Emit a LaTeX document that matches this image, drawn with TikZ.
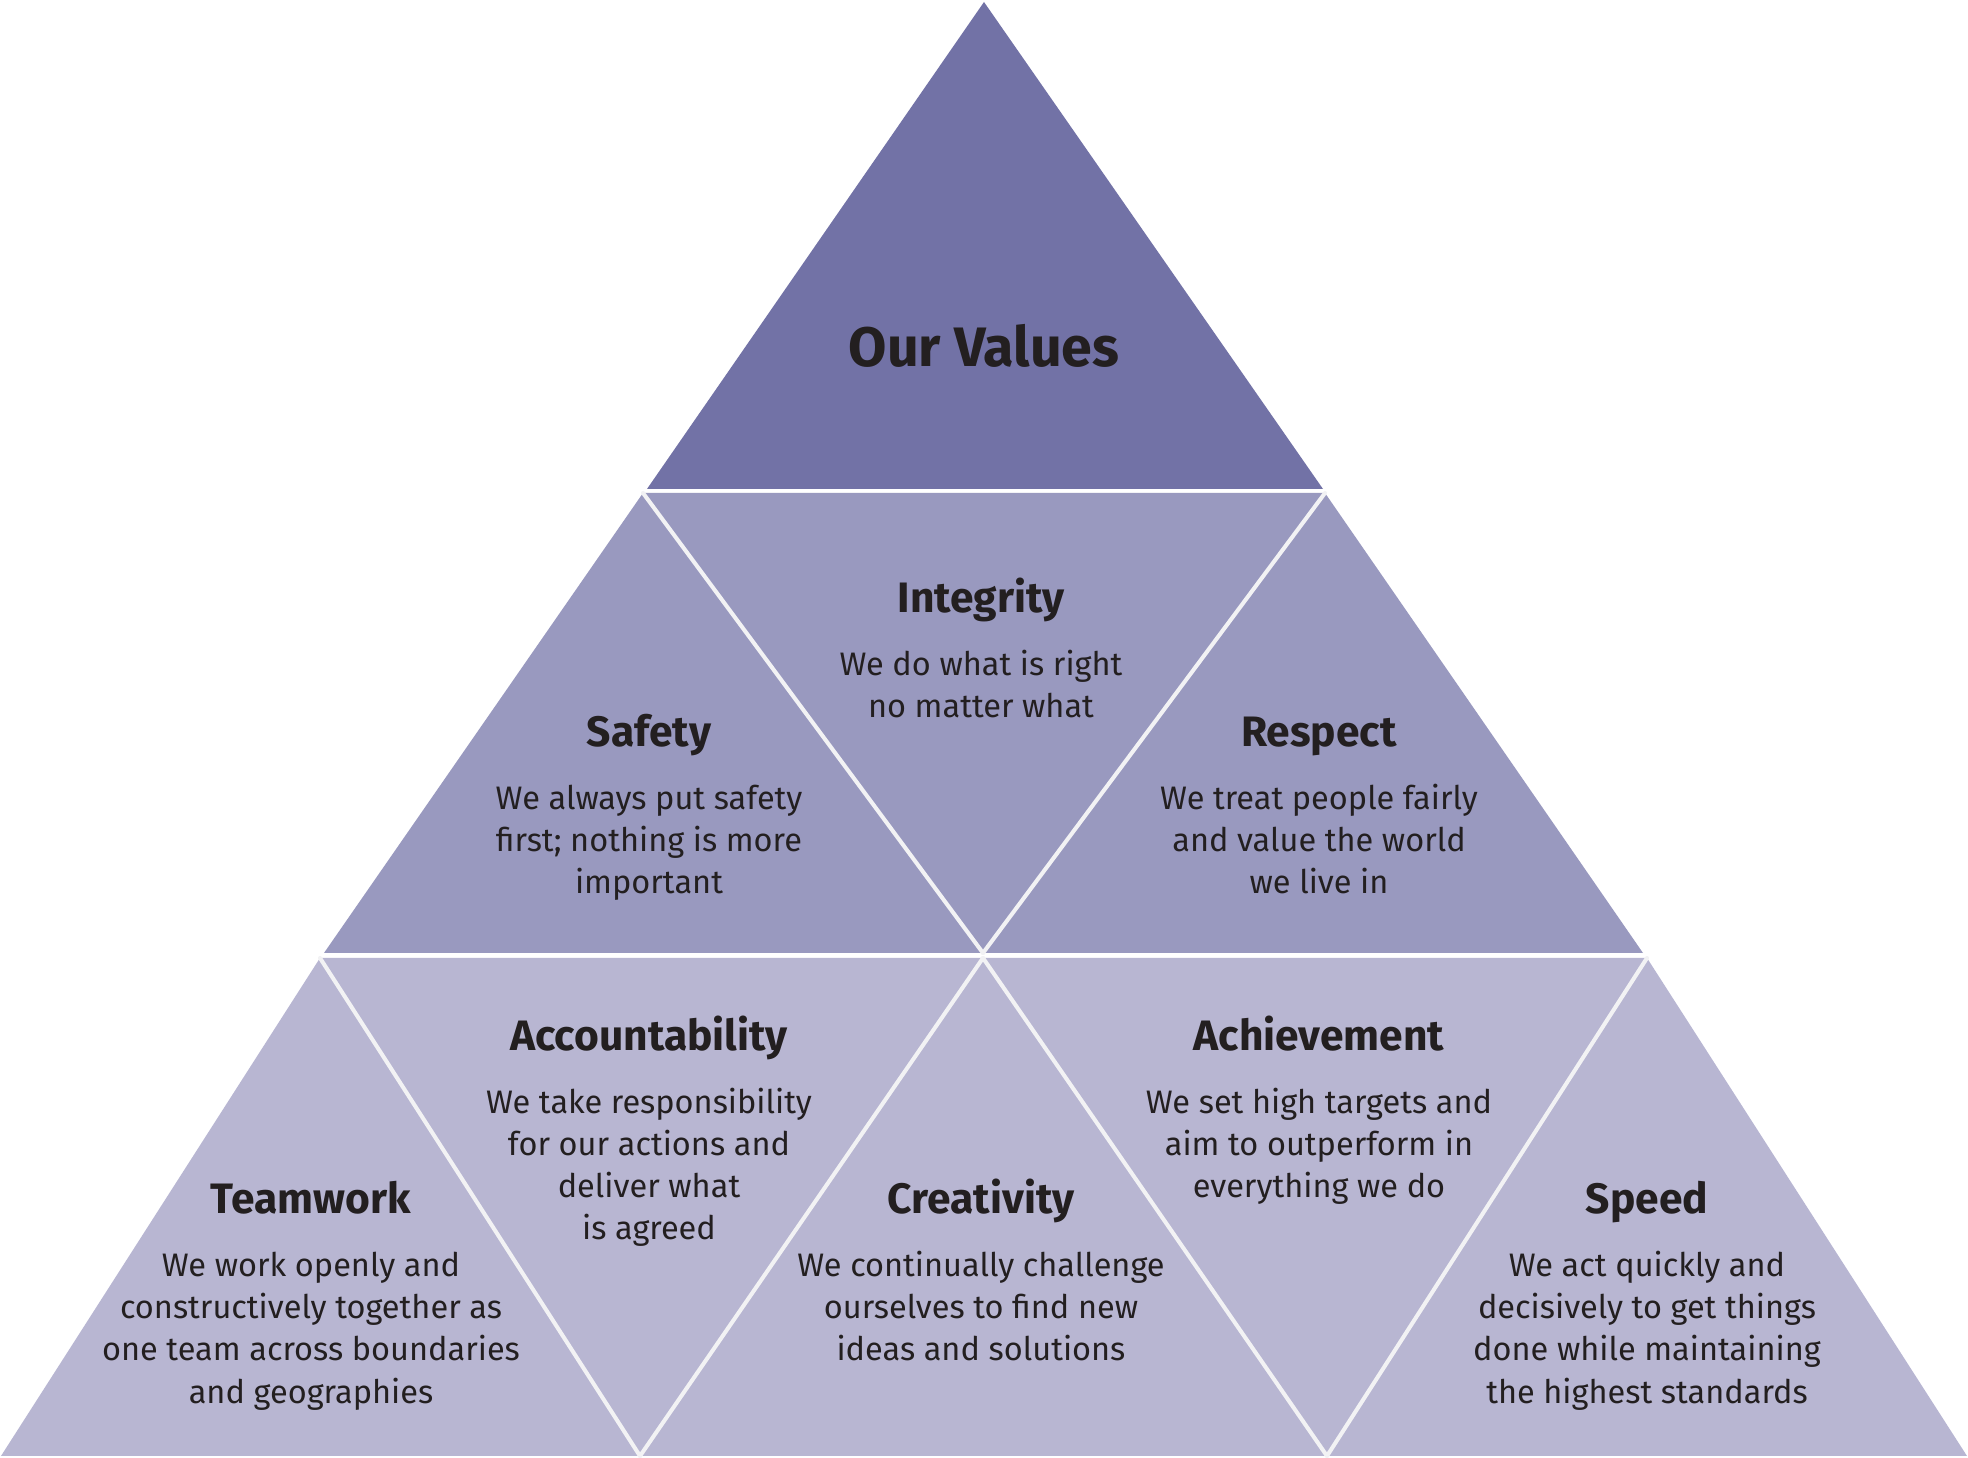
\documentclass[tikz,border=0pt]{standalone}
\usepackage{fontspec}
\setmainfont{Fira Sans}
\definecolor{topc}{RGB}{114,114,166}
\definecolor{midc}{RGB}{153,153,191}
\definecolor{botc}{RGB}{184,182,210}
\definecolor{txt}{RGB}{35,31,32}
\definecolor{gapc}{RGB}{242,242,244}
\newcommand{\bodytext}[4]{%
  \foreach \ln [count=\i] in {#4} {\node[bodyline] (#1-\i) at (#2,{#3+(\i-1)*42}) {\ln};}}
\begin{document}
\begin{tikzpicture}[x=0.01cm,y=-0.01cm,
  gapline/.style={draw=gapc,line width=1.15pt,line cap=round,line join=round},
  bodyline/.style={font=\fontsize{9.25}{11}\selectfont,text=txt,anchor=base,inner sep=0pt},
  titleline/.style={font=\fontsize{12.1}{14}\selectfont\bfseries,text=txt,anchor=base,inner sep=0pt},
  maintitle/.style={font=\fontsize{15.8}{18}\selectfont\bfseries,text=txt,anchor=center,inner sep=0pt}]
\useasboundingbox (0,0) rectangle (1968,1458);
\fill[white] (0,0) rectangle (1968,1458);
% vertices
\coordinate (A) at (984,2);
\coordinate (T1) at (647,489);
\coordinate (T2) at (1323,489);
\coordinate (M1) at (643,493);
\coordinate (M2) at (1325,493);
\coordinate (M3) at (1643,953);
\coordinate (M4) at (324,953);
\coordinate (MC) at (983,953);
\coordinate (B1) at (320,958);
\coordinate (B2) at (983,958);
\coordinate (B3) at (1647,958);
\coordinate (B4) at (1967,1456);
\coordinate (B5) at (1327,1456);
\coordinate (B6) at (640,1456);
\coordinate (B7) at (1,1456);
% rows
\fill[topc] (A) -- (T2) -- (T1) -- cycle;
\fill[midc] (M1) -- (M2) -- (M3) -- (M4) -- cycle;
\fill[botc] (B1) -- (B3) -- (B4) -- (B7) -- cycle;
% dividing lines
\draw[gapline] (M1) -- (MC);
\draw[gapline] (M2) -- (MC);
\draw[gapline] (B1) -- (B6);
\draw[gapline] (B2) -- (B6);
\draw[gapline] (B2) -- (B5);
\draw[gapline] (B3) -- (B5);
% texts
\node[maintitle] (ourvalues) at (984,346) {Our Values};
\node[titleline] (integrity) at (981,613) {Integrity};
\bodytext{integritytext}{981}{676}{We do what is right,no matter what}
\node[titleline] (safety) at (649,747) {Safety};
\bodytext{safetytext}{649}{810}{We always put safety,first; nothing is more,important}
\node[titleline] (respect) at (1319,747) {Respect};
\bodytext{respecttext}{1319}{810}{We treat people fairly,and value the world,we live in}
\node[titleline] (accountability) at (649,1051) {Accountability};
\bodytext{accounttext}{649}{1114}{We take responsibility,for our actions and,deliver what,is agreed}
\node[titleline] (achievement) at (1319,1051) {Achievement};
\bodytext{achievetext}{1319}{1114}{We set high targets and,aim to outperform in,everything we do}
\node[titleline] (teamwork) at (311,1214) {Teamwork};
\bodytext{teamtext}{311}{1277}{We work openly and,constructively together as,one team across boundaries,and geographies}
\node[titleline] (creativity) at (981,1214) {Creativity};
\bodytext{creativetext}{981}{1277}{We continually challenge,ourselves to find new,ideas and solutions}
\node[titleline] (speed) at (1647,1214) {Speed};
\bodytext{speedtext}{1647}{1277}{We act quickly and,decisively to get things,done while maintaining,the highest standards}
\end{tikzpicture}
\end{document}
